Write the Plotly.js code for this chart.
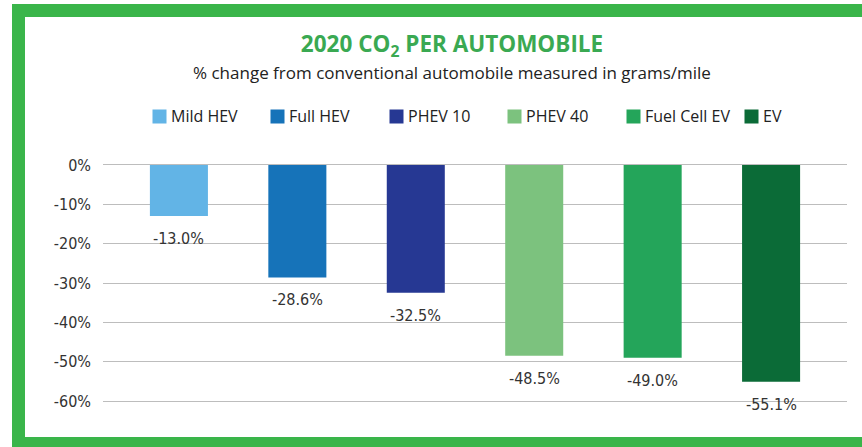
<!DOCTYPE html>
<html>
<head>
<meta charset="utf-8">
<script src="https://cdn.plot.ly/plotly-3.0.1.min.js"></script>
<style>
  html, body { margin:0; padding:0; background:#ffffff; width:862px; height:447px; overflow:hidden; }
  #frame { position:absolute; left:12px; top:4px; width:850px; height:443px; box-sizing:border-box;
           border-left:13px solid #3AB54A; border-top:13px solid #3AB54A; border-bottom:10px solid #3AB54A; background:#fff; }
  #chart { position:absolute; left:0; top:0; width:862px; height:447px; }
</style>
</head>
<body>
<div id="frame"></div>
<div id="chart"></div>
<script>
const categories = ["Mild HEV", "Full HEV", "PHEV 10", "PHEV 40", "Fuel Cell EV", "EV"];
const values = [-13.0, -28.6, -32.5, -48.5, -49.0, -55.1];
const colors = ["#62B4E6", "#1673B9", "#263893", "#7CC27E", "#24A55A", "#0B6B37"];
const tickValues = [0, -10, -20, -30, -40, -50, -60];
const tickLabels = ["0%", "-10%", "-20%", "-30%", "-40%", "-50%", "-60%"];

const BAR_W = 0.49;
const condensed = "'Liberation Sans Narrow', 'DejaVu Sans Condensed', sans-serif";
const humanist = "'Open Sans', Lato, sans-serif";
const labelFont = {family: condensed, size: 16, color: "#333333"};

// plot area: top 161 px, height 244 px ; y paper for a pixel row
const PT = 161, PH = 244;
const yPaper = px => (PT + PH - px) / PH;

const traces = categories.map((c, i) => ({
  type: "bar",
  name: c,
  x: [i],
  y: [values[i]],
  width: BAR_W,
  marker: {color: colors[i]},
  hoverinfo: "skip",
  showlegend: false
}));

const annotations = [];
// data labels under bars
categories.forEach((c, i) => {
  annotations.push({
    x: i, y: values[i], xref: "x", yref: "y",
    text: values[i].toFixed(1) + "%",
    showarrow: false, yanchor: "top", yshift: -11,
    font: labelFont
  });
});
// legend (swatch + text), aligned with each bar's left edge
categories.forEach((c, i) => {
  annotations.push({
    x: i - BAR_W / 2, y: yPaper(116), xref: "x", yref: "paper",
    xanchor: "left", yanchor: "middle", xshift: 2,
    text: "\u00a0", width: 13, height: 13, borderpad: 0,
    bgcolor: colors[i], showarrow: false,
    font: {size: 8, color: colors[i]}
  });
  annotations.push({
    x: i - BAR_W / 2, y: yPaper(116), xref: "x", yref: "paper",
    xanchor: "left", yanchor: "middle", xshift: 19,
    text: c, showarrow: false,
    font: {family: humanist, size: 16, color: "#222222"}
  });
});
// subtitle
annotations.push({
  xref: "paper", yref: "paper", x: (452 - 103) / 744, y: yPaper(72),
  xanchor: "center", yanchor: "middle",
  text: "% change from conventional automobile measured in grams/mile",
  showarrow: false,
  font: {family: humanist, size: 17, color: "#222222"}
});

const layout = {
  width: 862, height: 447,
  margin: {l: 103, r: 15, t: PT, b: 447 - PT - PH, pad: 0},
  paper_bgcolor: "rgba(0,0,0,0)",
  plot_bgcolor: "rgba(0,0,0,0)",
  barmode: "overlay",
  showlegend: false,
  title: {
    text: "<b>2020 CO<sub>2</sub> PER AUTOMOBILE</b>",
    xref: "container", yref: "container",
    x: 452 / 862, y: 1 - 44 / 447, xanchor: "center", yanchor: "middle",
    font: {family: humanist, size: 22.5, color: "#3AA952"}
  },
  xaxis: {
    range: [-0.641, 5.641],
    showticklabels: false, showgrid: false, zeroline: false, showline: false, ticks: ""
  },
  yaxis: {
    range: [-61, 1],
    tickvals: tickValues, ticktext: tickLabels,
    showgrid: true, gridcolor: "#BDBDBD", gridwidth: 1,
    zeroline: false, showline: false, ticks: "",
    ticklabelstandoff: 11,
    tickfont: {family: condensed, size: 16, color: "#333333"}
  },
  annotations: annotations
};

Plotly.newPlot("chart", traces, layout, {displayModeBar: false, staticPlot: true});
</script>
</body>
</html>
